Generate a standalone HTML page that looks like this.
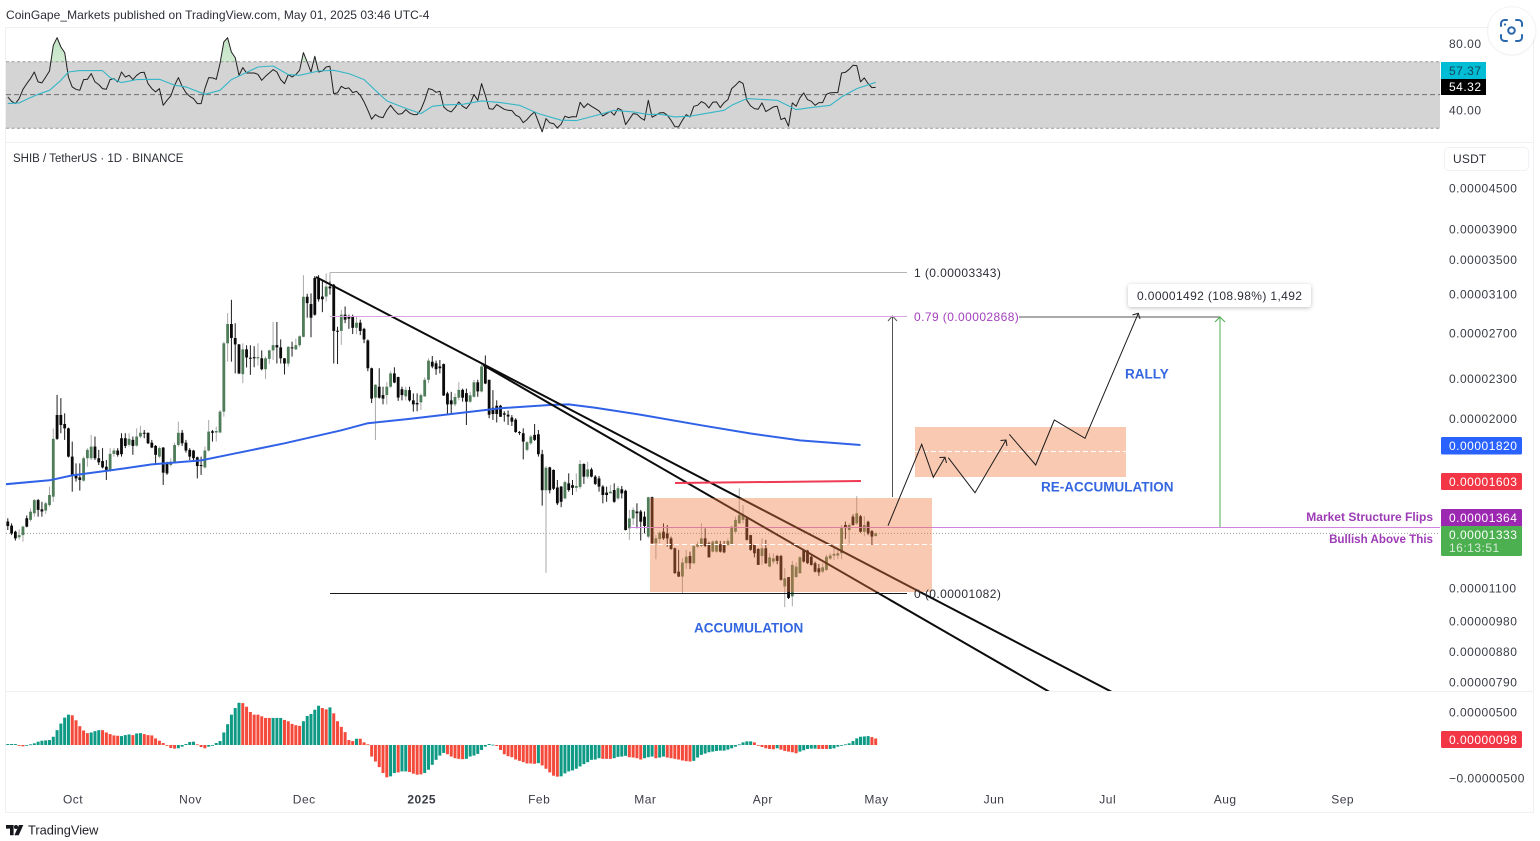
<!DOCTYPE html>
<html lang="en">
<head>
<meta charset="utf-8">
<title>SHIB / TetherUS chart</title>
<style>
html,body{margin:0;padding:0;background:#fff;width:1540px;height:841px;overflow:hidden}
svg{display:block;font-family:"Liberation Sans",sans-serif}
.ax{font-size:12px;letter-spacing:.5px;fill:#3a3d46}
.tag{font-size:12px;letter-spacing:.5px}
.note{font-size:13.5px;font-weight:bold;fill:#3366e0}
.pur{font-size:12px;font-weight:bold;fill:#9c3bb5}
</style>
</head>
<body>
<svg id="chart" xmlns="http://www.w3.org/2000/svg" width="1540" height="841" viewBox="0 0 1540 841">
<defs>
<clipPath id="mainClip"><rect x="6" y="143" width="1434" height="548"/></clipPath>
<clipPath id="obClip"><rect x="6" y="28" width="1434" height="33.7"/></clipPath>
<linearGradient id="obFill" x1="0" y1="0" x2="0" y2="1"><stop offset="0" stop-color="#4caf50" stop-opacity=".35"/><stop offset="1" stop-color="#4caf50" stop-opacity="0"/></linearGradient>
<filter id="tipShadow" x="-10%" y="-40%" width="120%" height="190%"><feDropShadow dx="0" dy="1" stdDeviation="2" flood-color="#000" flood-opacity=".25"/></filter>
</defs>
<rect width="1540" height="841" fill="#fff"/>
<text x="6" y="19" font-size="12" letter-spacing=".04" fill="#2b2e36">CoinGape_Markets published on TradingView.com, May 01, 2025 03:46 UTC-4</text>

<g stroke="#eef0f4" stroke-width="1">
<line x1="5.5" y1="27" x2="5.5" y2="812"/>
<line x1="1533.5" y1="27" x2="1533.5" y2="812"/>
<line x1="5" y1="27.5" x2="1534" y2="27.5"/>
<line x1="5" y1="142.5" x2="1534" y2="142.5"/>
<line x1="5" y1="691.5" x2="1534" y2="691.5"/>
<line x1="5" y1="812.5" x2="1534" y2="812.5"/>
</g>

<g id="rsiPane">
<rect x="6" y="61.7" width="1434" height="66.6" fill="#d4d4d4"/>
<line x1="6" y1="61.7" x2="1440" y2="61.7" stroke="#9a9a9a" stroke-dasharray="3 2.5"/>
<line x1="6" y1="128.3" x2="1440" y2="128.3" stroke="#9a9a9a" stroke-dasharray="3 2.5"/>
<line x1="6" y1="94.6" x2="1440" y2="94.6" stroke="#6d6d6d" stroke-dasharray="5 3"/>
</g>

<g id="mainPane" clip-path="url(#mainClip)"></g>

<g id="overlay" clip-path="url(#mainClip)">
<line x1="316" y1="277" x2="1120" y2="696.2" stroke="#0c0c0c" stroke-width="2"/>
<line x1="483" y1="365" x2="1060" y2="698" stroke="#0c0c0c" stroke-width="2"/>
<line x1="675" y1="483" x2="861" y2="481" stroke="#ee3a52" stroke-width="2"/>
<line x1="892.5" y1="497" x2="892.5" y2="316" stroke="#555"/>
<polyline points="888,321 892.5,316 897,321" fill="none" stroke="#555"/>
<line x1="1019" y1="317" x2="1220" y2="317" stroke="#555"/>
<line x1="1220" y1="527" x2="1220" y2="317" stroke="#4caf50"/>
<polyline points="1215,322 1220,317 1225,322" fill="none" stroke="#4caf50"/>
<rect x="650" y="498" width="282" height="94" fill="#f2783c" fill-opacity=".4"/>
<line x1="650" y1="544.5" x2="932" y2="544.5" stroke="#fff" stroke-dasharray="5 3"/>
<rect x="915" y="427" width="211" height="50" fill="#f2783c" fill-opacity=".4"/>
<line x1="915" y1="451.5" x2="1126" y2="451.5" stroke="#fff" stroke-dasharray="5 3"/>
<polyline points="888,525.7 921.7,444.3 933.3,477.3 945,457.3" fill="none" stroke="#1c1c1c"/>
<polyline points="939.5,457.5 945,457.3 946.5,463" fill="none" stroke="#1c1c1c"/>
<polyline points="948.3,457.7 975,492.7 1006,440" fill="none" stroke="#1c1c1c"/>
<polyline points="1000.5,440.5 1006,440 1007,446" fill="none" stroke="#1c1c1c"/>
<polyline points="1009.3,434.3 1035.7,465 1054.3,420 1085,438.3 1138.3,313.3" fill="none" stroke="#1c1c1c"/>
<polyline points="1132.5,315 1138.3,313.3 1140,319" fill="none" stroke="#1c1c1c"/>
</g>

<g id="fibGroup"></g>

<g id="histPane"></g>
<g id="rsiLines"></g>
<g id="axisText"></g>

<text x="13" y="162" font-size="11.5" fill="#2b2e36">SHIB / TetherUS · 1D · BINANCE</text>

<text x="694" y="632.5" class="note">ACCUMULATION</text>
<text x="1125" y="378.5" class="note">RALLY</text>
<text x="1041" y="491.5" class="note">RE-ACCUMULATION</text>
<text x="1433" y="521" text-anchor="end" class="pur">Market Structure Flips</text>
<text x="1433" y="543" text-anchor="end" font-size="11.6" font-weight="bold" fill="#9c3bb5">Bullish Above This</text>

<g>
<rect x="1128" y="284" width="183" height="23" rx="3" fill="#fff" filter="url(#tipShadow)"/>
<text x="1137" y="300" font-size="12" letter-spacing=".38" fill="#2b2e36">0.00001492 (108.98%) 1,492</text>
</g>

<g>
<rect x="1441" y="62" width="45" height="17" fill="#00bcd4"/>
<text x="1449" y="75" class="tag" fill="#17465a">57.37</text>
<rect x="1441" y="79" width="45" height="16" fill="#000"/>
<text x="1449" y="91" class="tag" fill="#fff">54.32</text>
</g>
<g>
<rect x="1441" y="437" width="81" height="17.5" rx="1.5" fill="#2962ff"/>
<text x="1449" y="450" class="tag" fill="#fff">0.00001820</text>
<rect x="1441" y="473" width="81" height="17" rx="1.5" fill="#f23645"/>
<text x="1449" y="486" class="tag" fill="#fff">0.00001603</text>
<rect x="1441" y="509" width="81" height="18" rx="1.5" fill="#9c27b0"/>
<text x="1449" y="522" class="tag" fill="#fff">0.00001364</text>
<rect x="1441" y="526" width="81" height="30" rx="1.5" fill="#4caf50"/>
<text x="1449" y="539" class="tag" fill="#fff">0.00001333</text>
<text x="1449" y="552" class="tag" fill="#d5ecd6">16:13:51</text>
<rect x="1441" y="731" width="81" height="17" rx="1.5" fill="#f23645"/>
<text x="1449" y="744" class="tag" fill="#fff">0.00000098</text>
</g>

<g>
<rect x="1444.5" y="147.5" width="84" height="23" rx="4" fill="#fff" stroke="#f0f1f4"/>
<text x="1453" y="163" font-size="12" letter-spacing=".2" fill="#2b2e36">USDT</text>
</g>

<g>
<circle cx="1511.7" cy="31" r="25" fill="#000" fill-opacity=".04"/>
<circle cx="1511.7" cy="30.7" r="23.5" fill="#fff"/>
<g fill="none" stroke="#2a68ad" stroke-width="2" stroke-linecap="round">
<path d="M1501 26v-2.5a3.5 3.5 0 0 1 3.5-3.5h2.5"/>
<path d="M1516 20h2.5a3.5 3.5 0 0 1 3.5 3.5v2.5"/>
<path d="M1522 35v2.5a3.5 3.5 0 0 1-3.5 3.5h-2.5"/>
<path d="M1507 41h-2.5a3.5 3.5 0 0 1-3.5-3.5v-2.5"/>
<circle cx="1511.5" cy="30.5" r="3.3"/>
</g>
<circle cx="1505" cy="24.5" r="1.1" fill="#2a68ad"/>
</g>

<g fill="#15171c">
<path d="M6 825h7.6v10.2h-3.6v-6.6H6z"/>
<circle cx="16" cy="827" r="2"/>
<path d="M19 825h4.3l-4.6 10.2h-4.3z"/>
</g>
<text x="28" y="834.5" font-size="12.8" fill="#1c1e24">TradingView</text>
</svg>

<script>
var opens=[1390,1370,1341,1315,1325,1406,1398,1431,1499,1451,
1445,1473,1517,2023,2023,1960,1930,1747,1637,1624,
1605,1737,1737,1810,1737,1720,1686,1667,1764,1785,
1864,1864,1821,1853,1816,1875,1900,1900,1835,1814,
1747,1804,1706,1696,1716,1820,1900,1835,1789,1785,
1743,1696,1682,1785,1910,1902,1902,2047,2604,2787,
2653,2594,2336,2549,2475,2480,2470,2470,2377,2465,
2540,2587,2567,2470,2425,2567,2549,2587,2664,3068,
2990,3277,3277,3070,3070,3180,3200,2722,2720,2880,
2860,2860,2750,2800,2740,2630,2385,2150,2235,2170,
2170,2235,2342,2312,2215,2160,2208,2130,2110,2115,
2160,2290,2440,2427,2400,2420,2183,2130,2100,2150,
2210,2185,2120,2157,2270,2198,2400,2290,2075,2090,
2090,2035,2025,2005,1990,1905,1897,1789,1831,1886,
1890,1762,1552,1682,1667,1567,1572,1508,1590,1580,
1565,1570,1702,1628,1670,1628,1618,1572,1539,1535,
1553,1508,1557,1549,1357,1405,1440,1440,1414,1318,
1514,1287,1307,1341,1333,1310,1265,1165,1145,1200,
1231,1200,1272,1275,1310,1287,1250,1250,1283,1280,
1280,1280,1341,1381,1398,1405,1325,1280,1262,1231,
1265,1186,1207,1231,1231,1106,1143,1068,1143,1159,
1258,1255,1228,1200,1179,1165,1172,1220,1233,1233,
1243,1373,1349,1414,1381,1416,1341,1389,1344,1321];
var closes=[1368,1333,1310,1325,1365,1365,1439,1499,1448,1440,
1482,1526,1860,1860,1953,1930,1747,1637,1618,1609,
1737,1789,1810,1737,1712,1682,1667,1764,1785,1758,
1762,1814,1860,1814,1875,1900,1897,1831,1804,1758,
1800,1651,1647,1716,1820,1900,1831,1785,1747,1737,
1690,1690,1785,1908,1900,1912,2047,2604,2787,2653,
2594,2342,2549,2477,2470,2470,2480,2377,2470,2540,
2587,2567,2470,2425,2572,2560,2587,2669,3068,3000,
2850,2880,3041,3041,3180,3160,2720,2715,2880,2830,
2840,2750,2800,2720,2640,2385,2143,2250,2150,2143,
2235,2342,2268,2151,2170,2210,2130,2100,2100,2170,
2290,2450,2400,2377,2385,2167,2100,2100,2155,2210,
2150,2120,2168,2270,2198,2400,2260,2025,2030,2030,
2010,2025,2012,1976,1905,1900,1842,1838,1875,1853,
1762,1552,1680,1552,1560,1482,1490,1597,1553,1565,
1575,1702,1628,1670,1628,1587,1572,1526,1526,1544,
1490,1563,1535,1349,1405,1448,1431,1389,1368,1514,
1287,1310,1336,1310,1310,1262,1159,1145,1203,1228,
1200,1275,1283,1310,1275,1225,1295,1298,1250,1247,
1298,1365,1398,1422,1422,1303,1258,1243,1193,1265,
1200,1225,1221,1210,1132,1138,1062,1193,1186,1225,
1207,1200,1193,1165,1162,1183,1228,1233,1240,1243,
1358,1358,1373,1373,1431,1341,1373,1333,1318,1333];
var highs=[1406,1381,1346,1352,1370,1420,1456,1505,1505,1490,
1490,1572,1930,2172,2147,2035,1935,1842,1706,1706,
1747,1800,1886,1875,1789,1800,1726,1800,1800,1800,
1897,1897,1897,1875,1930,1947,1919,1902,1853,1820,
1810,1806,1716,1737,1835,1976,1919,1853,1800,1789,
1747,1747,1810,1988,1919,1941,2059,2619,2897,3035,
2795,2598,2604,2586,2586,2578,2604,2540,2485,2546,
2807,2807,2640,2472,2578,2619,2648,2678,3311,3100,
3105,3300,3311,3245,3330,3330,3210,2760,2930,2965,
2880,2880,2860,2830,2750,2640,2390,2255,2385,2235,
2270,2360,2393,2315,2235,2235,2235,2183,2183,2183,
2310,2470,2490,2450,2455,2425,2195,2195,2183,2270,
2220,2220,2195,2290,2290,2420,2495,2290,2208,2130,
2096,2050,2055,2022,2000,1912,1930,1845,1886,1960,
1919,1789,1690,1686,1670,1609,1575,1605,1647,1609,
1647,1726,1706,1716,1680,1637,1632,1580,1572,1580,
1590,1575,1575,1555,1448,1460,1482,1448,1440,1517,
1517,1325,1344,1381,1373,1318,1268,1258,1221,1258,
1250,1280,1295,1381,1357,1295,1300,1303,1298,1298,
1310,1370,1414,1562,1473,1410,1325,1283,1265,1310,
1303,1243,1243,1236,1236,1179,1143,1210,1203,1231,
1261,1258,1236,1207,1197,1200,1236,1243,1268,1258,
1373,1390,1381,1425,1520,1422,1416,1394,1349,1338];
var lows=[1349,1325,1300,1305,1295,1362,1390,1414,1414,1414,
1428,1465,1490,1853,1897,1853,1742,1544,1600,1550,
1600,1686,1726,1726,1696,1676,1609,1657,1747,1747,
1747,1800,1810,1758,1810,1864,1864,1826,1800,1702,
1737,1581,1638,1686,1706,1810,1814,1772,1726,1716,
1618,1638,1676,1779,1842,1842,1897,2011,2441,2441,
2342,2336,2263,2391,2330,2393,2407,2368,2296,2422,
2455,2425,2425,2333,2399,2485,2543,2570,2659,2850,
2660,2870,3016,2906,3016,3090,2425,2420,2590,2795,
2740,2690,2690,2680,2605,2360,2110,1853,2143,2100,
2100,2226,2263,2126,2130,2130,2120,2047,2050,2059,
2157,2263,2385,2330,2342,2163,2025,2030,2086,2130,
2120,1953,2110,2150,2157,2190,2255,2000,1988,1970,
2010,1976,1953,1946,1900,1885,1730,1780,1820,1846,
1747,1470,1160,1535,1553,1473,1462,1503,1544,1526,
1544,1560,1587,1618,1624,1581,1544,1482,1490,1535,
1485,1499,1508,1347,1303,1373,1357,1300,1333,1310,
1280,1217,1287,1303,1272,1258,1156,1143,1080,1176,
1176,1196,1265,1270,1270,1225,1246,1246,1246,1243,
1276,1276,1336,1378,1381,1300,1254,1225,1193,1193,
1197,1183,1196,1196,1129,1028,1058,1031,1140,1156,
1203,1197,1190,1162,1148,1159,1168,1214,1214,1217,
1217,1307,1287,1370,1373,1336,1320,1325,1280,1318];
var maBars=[-0.5,11,17,27,38,51,59,73,88,95,106,121,130,143,148,155,167,183,196,209,225];
var maValues=[1585,1607,1635,1664,1700,1724,1762,1831,1917,1965,1995,2042,2072,2095,2100,2075,2025,1951,1895,1850,1820];
var rsiValues=[48.6,46.0,44.6,47.6,53.2,56.6,59.6,63.6,57.6,57.0,
60.6,64.2,79.6,84.2,78.6,75.2,60.6,54.6,53.2,52.6,
59.0,59.2,62.6,57.6,56.0,53.6,53.2,59.0,59.6,57.6,
63.6,60.6,61.6,59.0,61.6,63.2,63.4,56.6,53.6,51.6,
53.6,43.6,46.6,49.2,55.6,60.2,55.0,51.2,49.0,47.6,
44.6,44.6,53.6,60.2,60.0,59.2,68.6,81.6,84.2,75.6,
72.2,61.6,66.2,63.0,63.0,63.0,62.2,58.6,61.0,63.0,
65.0,63.6,59.0,56.6,62.0,60.6,62.0,64.6,75.2,69.6,
63.6,73.0,63.6,64.2,66.6,67.0,50.6,51.0,55.0,53.6,
54.0,51.2,52.0,49.6,45.6,40.6,35.2,38.0,36.6,36.2,
40.6,43.6,40.6,38.2,38.6,41.0,39.0,38.0,38.0,41.0,
46.6,53.6,53.0,51.4,52.0,42.6,40.6,39.6,42.2,45.6,
43.0,41.6,44.6,50.0,46.6,56.6,49.6,41.6,41.2,44.0,
42.6,41.2,40.6,40.4,37.6,36.6,33.2,35.0,37.6,39.6,
33.6,27.6,35.6,33.0,32.6,30.0,32.2,37.0,36.2,36.8,
36.6,45.4,42.2,44.6,43.0,41.6,40.2,37.2,38.6,40.0,
37.6,41.8,40.6,32.0,35.2,38.6,38.2,36.0,34.6,46.6,
36.4,37.6,39.0,39.2,37.6,34.6,30.8,30.6,34.6,38.0,
36.6,43.0,43.6,45.8,44.6,42.0,45.4,45.6,42.2,45.2,
47.0,53.6,55.6,58.0,56.6,46.6,43.2,41.6,41.2,45.0,
39.8,41.2,42.6,43.0,35.0,36.0,31.0,45.0,43.0,48.0,
51.0,47.0,46.0,43.6,45.2,45.2,50.2,51.0,51.2,51.2,
63.0,63.4,65.2,67.6,67.4,57.6,60.0,56.6,54.2,54.3];
var rsiMaBars=[0,3,5,8,11,14,16,19,25,27,30,34,40,44,47,52,56,59,62,66,70,74,77,82,86,90,94,97,100,104,109,112,115,120,125,130,135,140,146,150,156,160,165,169,172,176,180,184,189,191,195,203,208,212,217,220,224,229];
var rsiMaValues=[44.6,45,47.2,50.2,52.6,58.6,63.6,64.4,64.4,60.2,57.2,59,59.2,55.6,54.6,50.2,52.6,59,62.2,66.6,67.2,62,61.6,64.2,64.6,62.6,59,52.6,46.2,42.6,38.6,43,43.8,44.2,46.2,45.2,43.6,38.6,34.6,34.4,38,40.6,39.6,38,38.2,36.6,37,38.6,40.6,43.6,47.6,46.6,41,42.2,43.6,48.6,53.6,57.4];
var histValues=[15,15,15,-10,-20,-5,10,25,50,65,
70,75,125,225,325,415,460,450,375,285,
220,180,190,210,225,225,190,165,145,140,
135,150,160,150,175,180,165,150,145,100,
65,30,-10,-45,-55,-50,-25,15,45,50,
10,-30,-50,-25,-10,30,60,190,315,460,
560,640,635,580,500,460,460,435,410,410,
410,410,410,380,360,320,300,290,360,440,
470,535,595,560,540,570,480,360,275,195,
75,60,95,95,40,10,-175,-250,-335,-425,
-490,-475,-425,-415,-400,-400,-410,-435,-450,-445,
-425,-375,-300,-225,-160,-120,-140,-175,-200,-210,
-215,-210,-175,-160,-135,-75,-25,15,5,-15,
-75,-140,-170,-185,-220,-240,-260,-280,-280,-285,
-275,-310,-360,-415,-465,-480,-475,-430,-400,-385,
-360,-325,-290,-260,-225,-220,-200,-210,-210,-210,
-200,-180,-175,-165,-185,-190,-200,-220,-200,-185,
-175,-200,-190,-175,-190,-200,-210,-220,-235,-245,
-250,-240,-190,-150,-130,-110,-100,-90,-85,-85,
-70,-50,-25,10,40,55,55,40,-10,-30,
-50,-60,-65,-50,-70,-90,-100,-110,-125,-100,
-80,-60,-55,-55,-60,-60,-60,-60,-50,-25,
-10,10,25,60,100,125,130,135,120,98];
var histIsRed=[0,0,0,1,1,0,0,0,0,0,
0,0,0,0,0,0,0,1,1,1,
1,1,0,0,0,1,1,1,1,1,
0,0,0,1,0,0,1,1,1,1,
1,1,1,1,1,0,0,0,0,0,
1,1,1,0,0,0,0,0,0,0,
0,0,1,1,1,1,1,1,1,1,
0,0,0,1,1,1,1,1,0,0,
0,0,0,1,1,0,1,1,1,1,
1,1,0,1,1,1,1,1,1,1,
1,0,0,1,0,0,1,1,1,1,
0,0,0,0,0,0,1,1,1,1,
1,0,0,0,0,0,0,0,0,1,
1,1,1,1,1,1,1,1,1,1,
0,1,1,1,1,1,0,0,0,0,
0,0,0,0,0,0,0,1,1,1,
0,0,0,0,1,1,1,1,0,0,
0,1,0,0,1,1,1,1,1,1,
1,0,0,0,0,0,0,0,0,0,
0,0,0,0,0,0,0,1,1,1,
1,1,1,0,1,1,1,1,1,0,
0,0,0,0,1,1,1,0,0,0,
0,0,0,0,0,0,0,0,1,1];
var priceTicks=[4500,3900,3500,3100,2700,2300,2000,1100,980,880,790];
var priceTickLabels=["0.00004500","0.00003900","0.00003500","0.00003100","0.00002700","0.00002300","0.00002000","0.00001100","0.00000980","0.00000880","0.00000790"];
var rsiTicks=[80,40];
var rsiTickLabels=["80.00","40.00"];
var histTicks=[500,-500];
var histTickLabels=["0.00000500","\u22120.00000500"];
var monthBars=[17,48,78,109,140,168,199,229,260,290,321,352];
var monthLabels=["Oct","Nov","Dec","2025","Feb","Mar","Apr","May","Jun","Jul","Aug","Sep"];
var fibPrices=[3343,2868,1082];
var fibLabels=["1 (0.00003343)","0.79 (0.00002868)","0 (0.00001082)"];
var fibColors=["#b5b5b5","#d8a4e0","#1a1a1a"];
var fibTextColors=["#2b2e36","#a33fbd","#2b2e36"];
var structurePrice=1364;
var lastPrice=1333;

var NS="http://www.w3.org/2000/svg";
function xBar(i){return 7.8+3.79*i;}
function yPrice(p){return 188+283.9*Math.log(4500/p);}
function yRsi(v){return 94.6-(v-50)*1.665;}
function yHist(v){return 745-v*0.066;}
function make(tag){return document.createElementNS(NS,tag);}
function put(el,k,v){el.setAttribute(k,v);}

var mainG=document.getElementById("mainPane");
var histG=document.getElementById("histPane");
var rsiG=document.getElementById("rsiLines");
var axisG=document.getElementById("axisText");
var fibG=document.getElementById("fibGroup");

// dotted last-price line
var dotted=make("line");


put(dotted,"x1",6);put(dotted,"x2",1440);put(dotted,"y1",yPrice(lastPrice));put(dotted,"y2",yPrice(lastPrice));
put(dotted,"stroke","#9aa58f");put(dotted,"stroke-dasharray","1 2");
mainG.appendChild(dotted);

// candles
for(var i=0;i<opens.length;i++){
  var isUp=closes[i]>=opens[i];
  var cx=xBar(i);
  var wick=make("line");
  
  
  put(wick,"x1",cx);put(wick,"x2",cx);put(wick,"y1",yPrice(highs[i]));put(wick,"y2",yPrice(lows[i]));
  put(wick,"stroke",isUp?"#a9a9a9":"#1c1c1c");put(wick,"stroke-width",1);
  mainG.appendChild(wick);
  var bodyTop=yPrice(Math.max(opens[i],closes[i]));
  var bodyBot=yPrice(Math.min(opens[i],closes[i]));
  var body=make("rect");
  
  
  put(body,"x",cx-1.4);put(body,"width",2.8);put(body,"y",bodyTop);put(body,"height",Math.max(bodyBot-bodyTop,1));
  put(body,"fill",isUp?"#4f7c59":"#0a0a0a");
  mainG.appendChild(body);
}

function linePath(bars,vals,yf){
  var d="";
  for(var k=0;k<vals.length;k++){d+=(k?"L":"M")+xBar(bars?bars[k]:k).toFixed(1)+" "+yf(vals[k]).toFixed(1);}
  return d;
}

// long moving average
var maLine=make("path");


put(maLine,"d",linePath(maBars,maValues,yPrice));
put(maLine,"fill","none");put(maLine,"stroke","#2f62e6");put(maLine,"stroke-width",2);put(maLine,"stroke-linejoin","round");
mainG.appendChild(maLine);

// structure line sits with the price drawings
var overlayG=document.getElementById("overlay");
var structLine=make("line");
var structY=Math.round(yPrice(structurePrice))+0.5;


put(structLine,"x1",630);put(structLine,"x2",1440);put(structLine,"y1",structY);put(structLine,"y2",structY);
put(structLine,"stroke","#d083e0");put(structLine,"stroke-width",1);
overlayG.insertBefore(structLine,overlayG.firstChild);

// fib levels
for(var f=0;f<fibPrices.length;f++){
  var fibY=Math.round(yPrice(fibPrices[f]))+0.5;
  var fibLine=make("line");
  
  
  put(fibLine,"x1",330);put(fibLine,"x2",907);put(fibLine,"y1",fibY);put(fibLine,"y2",fibY);
  put(fibLine,"stroke",fibColors[f]);put(fibLine,"stroke-width",1);
  fibG.appendChild(fibLine);
  var fibText=make("text");
  
  
  put(fibText,"x",914);put(fibText,"y",fibY+4.3);put(fibText,"font-size",12);put(fibText,"letter-spacing",".42");
  put(fibText,"fill",fibTextColors[f]);
  fibText.textContent=fibLabels[f];
  fibG.appendChild(fibText);
}
var fibStub=make("line");


put(fibStub,"x1",330);put(fibStub,"x2",330);put(fibStub,"y1",yPrice(fibPrices[0]));put(fibStub,"y2",yPrice(fibPrices[0])+9);
put(fibStub,"stroke","#b5b5b5");
fibG.appendChild(fibStub);

// rsi overbought fill, rsi line, rsi average
var obArea=make("path");


put(obArea,"d",linePath(null,rsiValues,yRsi)+"L"+xBar(rsiValues.length-1)+" 130L"+xBar(0)+" 130Z");
put(obArea,"fill","url(#obFill)");put(obArea,"clip-path","url(#obClip)");
rsiG.appendChild(obArea);
var rsiLine=make("path");


put(rsiLine,"d",linePath(null,rsiValues,yRsi));
put(rsiLine,"fill","none");put(rsiLine,"stroke","#1f1f1f");put(rsiLine,"stroke-width",1);put(rsiLine,"stroke-linejoin","round");
rsiG.appendChild(rsiLine);
var rsiAvg=make("path");


put(rsiAvg,"d",linePath(rsiMaBars,rsiMaValues,yRsi));
put(rsiAvg,"fill","none");put(rsiAvg,"stroke","#35b6c8");put(rsiAvg,"stroke-width",1.1);put(rsiAvg,"stroke-linejoin","round");
rsiG.appendChild(rsiAvg);

// histogram
for(var h=0;h<histValues.length;h++){
  var hY=yHist(histValues[h]);
  var hBar=make("rect");
  
  
  put(hBar,"x",xBar(h)-1.5);put(hBar,"width",3);
  put(hBar,"y",Math.min(hY,745));put(hBar,"height",Math.max(Math.abs(hY-745),0.8));
  put(hBar,"fill",histIsRed[h]?"#f44a3c":"#0f9a85");
  histG.appendChild(hBar);
}

// axis labels
function axisLabel(x,y,txt,name,anchor,bold){
  var t=make("text");
  
  
  put(t,"x",x);put(t,"y",y);put(t,"class","ax");
  if(anchor){put(t,"text-anchor",anchor);}
  if(bold){put(t,"font-weight","bold");}
  t.textContent=txt;
  axisG.appendChild(t);
}
for(var a=0;a<priceTicks.length;a++){axisLabel(1449,yPrice(priceTicks[a])+4.7,priceTickLabels[a],"price-tick-label");}
for(var b=0;b<rsiTicks.length;b++){axisLabel(1449,yRsi(rsiTicks[b])+3.3,rsiTickLabels[b],"rsi-tick-label");}
for(var c=0;c<histTicks.length;c++){axisLabel(1449,yHist(histTicks[c])+4.3,histTickLabels[c],"oscillator-tick-label");}
for(var m=0;m<monthBars.length;m++){axisLabel(xBar(monthBars[m])+0.8,803.5,monthLabels[m],"time-tick-label","middle",monthLabels[m]==="2025");}
</script>
</body>
</html>
